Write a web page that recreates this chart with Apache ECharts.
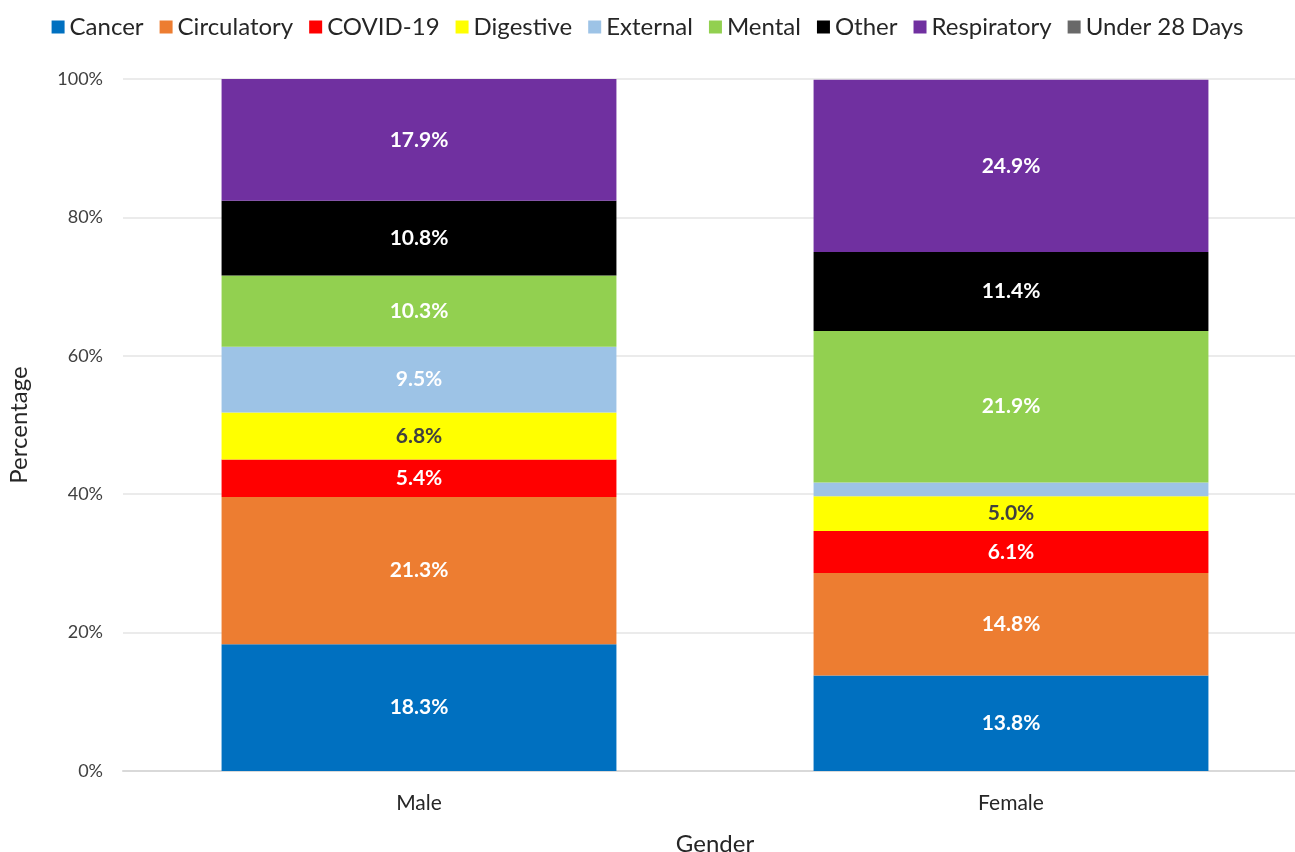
<!DOCTYPE html>
<html>
<head>
<meta charset="utf-8">
<script src="https://cdn.jsdelivr.net/npm/echarts@6/dist/echarts.min.js"></script>
<style>
  html, body { margin: 0; padding: 0; background: #fff; }
  #chart { width: 1295px; height: 852px; }
</style>
</head>
<body>
<div id="chart"></div>
<script>
const genders = ['Male', 'Female'];
const causes = ['Cancer', 'Circulatory', 'COVID-19', 'Digestive', 'External', 'Mental', 'Other', 'Respiratory', 'Under 28 Days'];
const causeColors = ['#0070c0', '#ed7d31', '#ff0000', '#ffff00', '#9dc3e6', '#92d050', '#000000', '#7030a0', '#696969'];

// percentage of deaths, [Male, Female]
const cancer = [18.3, 13.8];
const circulatory = [21.3, 14.8];
const covid = [5.4, 6.1];
const digestive = [6.8, 5.0];
const external = [9.5, 2.0];
const mental = [10.3, 21.9];
const other = [10.8, 11.4];
const respiratory = [17.9, 24.9];
const under28Days = [0, 0];

const yTicks = [0, 20, 40, 60, 80, 100];

const seriesValues = [cancer, circulatory, covid, digestive, external, mental, other, respiratory, under28Days];
const fontFamily = 'Lato, "Open Sans", sans-serif';

const chart = echarts.init(document.getElementById('chart'));

chart.setOption({
    animation: false,
    backgroundColor: '#fff',
    textStyle: { fontFamily },
    legend: {
        top: 10,
        left: 'center',
        itemWidth: 13,
        itemHeight: 13,
        itemGap: 16,
        icon: 'rect',
        textStyle: { color: '#262626', fontSize: 24, fontFamily },
        data: causes,
    },
    // plot area runs a little past the right edge, like the original
    grid: { left: 123, right: -12, top: 79, bottom: 81, outerBoundsMode: 'none' },
    xAxis: {
        type: 'category',
        data: genders,
        name: 'Gender',
        nameLocation: 'middle',
        nameGap: 61,
        nameTextStyle: { color: '#262626', fontSize: 24, fontFamily },
        axisLine: { lineStyle: { color: '#d9d9d9', width: 2 } },
        axisTick: { show: false },
        axisLabel: { color: '#262626', fontSize: 21, margin: 22, fontFamily },
    },
    yAxis: {
        type: 'value',
        min: yTicks[0],
        max: yTicks[yTicks.length - 1],
        interval: 20,
        name: 'Percentage',
        nameLocation: 'middle',
        nameGap: 92,
        nameTextStyle: { color: '#262626', fontSize: 24, fontFamily },
        axisLine: { show: false },
        axisTick: { show: false },
        splitLine: { lineStyle: { color: '#ebebeb', width: 2 } },
        axisLabel: { color: '#404040', fontSize: 18, margin: 20, formatter: '{value}%', fontFamily },
    },
    series: causes.map((name, i) => ({
        name,
        type: 'bar',
        stack: 'total',
        barWidth: '66.7%',
        itemStyle: { color: causeColors[i] },
        label: {
            show: true,
            position: 'inside',
            fontSize: 21,
            fontWeight: 'bold',
            fontFamily,
            color: name === 'Digestive' ? '#404040' : '#fff',
            formatter: (p) => (p.value >= 3 ? p.value.toFixed(1) + '%' : ''),
        },
        data: seriesValues[i],
    })),
});
</script>
</body>
</html>
